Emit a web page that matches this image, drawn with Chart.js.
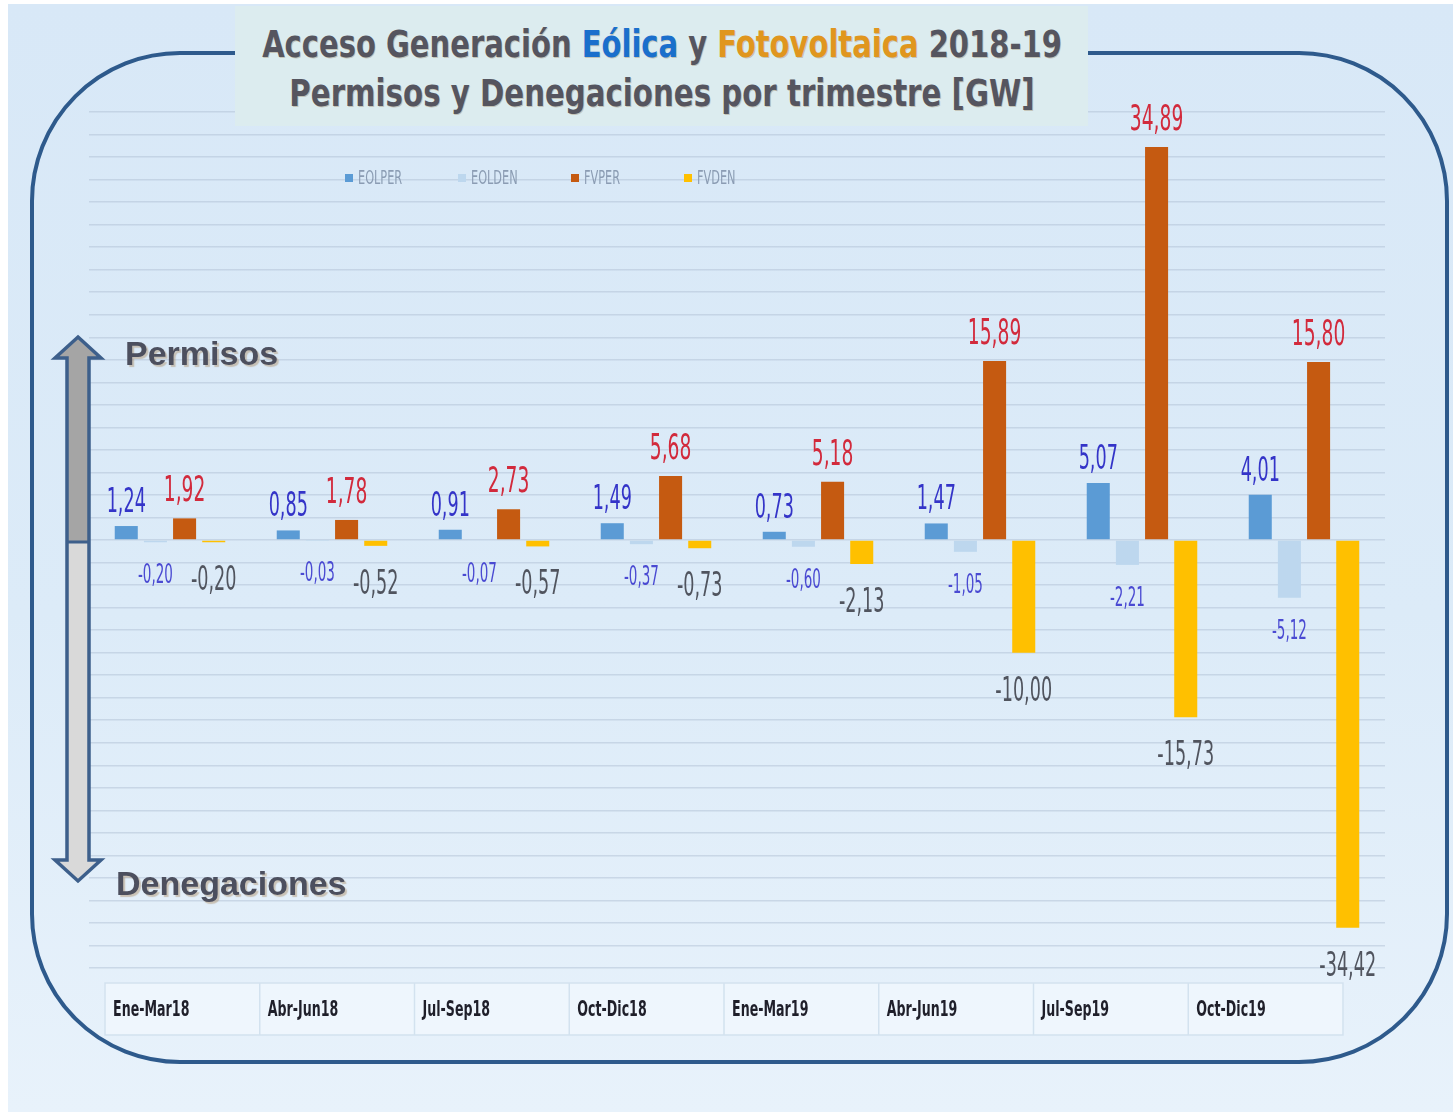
<!DOCTYPE html>
<html lang="es">
<head>
<meta charset="utf-8">
<title>Acceso Generación Eólica y Fotovoltaica 2018-19</title>
<script src="https://cdn.jsdelivr.net/npm/chart.js@4.4.1/dist/chart.umd.min.js"></script>
<style>
  html, body { margin: 0; padding: 0; background: #fff; }
  #lienzo { position: relative; width: 1453px; height: 1117px; overflow: hidden; background: #fff; }
  #fondo { position: absolute; left: 8px; top: 4px; width: 1445px; height: 1108px;
    background: linear-gradient(180deg, #d8e8f7 0%, #dcebf8 55%, #e8f2fb 100%); }
  #marco { position: absolute; left: 30px; top: 51px; width: 1411px; height: 1005px;
    border: 4px solid #2e5a8c; border-radius: 150px; }
  #grafico { position: absolute; left: 0; top: 0; }
  #titulo { position: absolute; left: 235px; top: 6px; width: 853px; height: 120px;
    background: #dcecef;
    font-family: 'Liberation Sans Narrow', 'DejaVu Sans Condensed', 'Roboto', sans-serif;
    font-weight: bold; font-size: 37px; color: #55555f; line-height: 44px;
    text-shadow: 1px 1px 0 rgba(150, 120, 80, 0.35); }
  #titulo span.t { position: absolute; left: 50%; white-space: nowrap; transform-origin: center center; }
  .azul { color: #1a6fcc; }
  .naranja { color: #e0961e; }
  .lado { position: absolute; font-family: 'Liberation Sans', Arial, sans-serif; font-weight: bold;
    font-size: 34px; color: #4c4f5e; text-shadow: 2px 2px 1px rgba(170, 140, 100, 0.45); }
  #flecha { position: absolute; left: 0; top: 0; }
</style>
</head>
<body>
<div id="lienzo">
  <div id="fondo"></div>
  <div id="marco"></div>
  <canvas id="grafico" width="1453" height="1117"></canvas>
  <div id="titulo">
    <span class="t" style="top:17px;" data-ancho="800">Acceso Generación <span class="azul">Eólica</span> y <span class="naranja">Fotovoltaica</span> 2018-19</span>
    <span class="t" style="top:66px;" data-ancho="745">Permisos y Denegaciones por trimestre [GW]</span>
  </div>
  <svg id="flecha" width="140" height="1117">
    <defs>
      <linearGradient id="rellenoFlecha" gradientUnits="userSpaceOnUse" x1="0" y1="337" x2="0" y2="881">
        <stop offset="0.377" stop-color="#a5a5a5"/>
        <stop offset="0.377" stop-color="#d9d9d9"/>
      </linearGradient>
    </defs>
    <path d="M78 337 L101 358 L89 358 L89 860 L101 860 L78 881 L55 860 L67 860 L67 358 L55 358 Z"
      fill="url(#rellenoFlecha)" stroke="#3d5f8b" stroke-width="3.5" stroke-linejoin="miter"/>
    <line x1="67" y1="542" x2="89" y2="542" stroke="#3d5f8b" stroke-width="3"/>
  </svg>
  <div class="lado" style="left:125px; top:334px;">Permisos</div>
  <div class="lado" style="left:116px; top:864px;">Denegaciones</div>
</div>

<script>
// trimestres
const categorias = ['Ene-Mar18', 'Abr-Jun18', 'Jul-Sep18', 'Oct-Dic18', 'Ene-Mar19', 'Abr-Jun19', 'Jul-Sep19', 'Oct-Dic19'];

// valores en GW
const eolPer = [1.24, 0.85, 0.91, 1.49, 0.73, 1.47, 5.07, 4.01];
const eolDen = [-0.20, -0.03, -0.07, -0.37, -0.60, -1.05, -2.21, -5.12];
const fvPer = [1.92, 1.78, 2.73, 5.68, 5.18, 15.89, 34.89, 15.80];
const fvDen = [-0.20, -0.52, -0.57, -0.73, -2.13, -10.00, -15.73, -34.42];

// eje y (oculto, solo lineas de fondo)
const yMin = -38;
const yMax = 38;
const yPaso = 2;

const fuenteEstrecha = "'Liberation Sans Narrow', 'DejaVu Sans Condensed', 'Roboto', sans-serif";

// ajustar el titulo al ancho del original
document.querySelectorAll('#titulo span.t').forEach(function (el) {
  const objetivo = parseFloat(el.dataset.ancho);
  const w = el.getBoundingClientRect().width;
  el.style.transform = 'translateX(-50%) scaleX(' + (objetivo / w).toFixed(3) + ')';
});

// estilo de etiquetas por serie: tamaño, color, desplazamiento
const estiloEtiquetas = [
  { size: 34, color: '#3434c8', off: 14 },
  { size: 26, color: '#4a4ad2', off: 41 },
  { size: 36, color: '#d22a3c', off: 17 },
  { size: 34, color: '#50545e', off: 48 }
];

function formato(v) {
  return v.toFixed(2).replace('.', ',');
}

// texto comprimido en horizontal: ancho de cifra = size * relacion
function textoEstrecho(ctx, texto, x, y, size, relacion, peso) {
  ctx.save();
  ctx.font = (peso || 'normal') + ' ' + size + 'px ' + fuenteEstrecha;
  const escala = (size * relacion) / ctx.measureText('0').width;
  ctx.translate(x, y);
  ctx.scale(escala, 1);
  ctx.fillText(texto, 0, 0);
  ctx.restore();
}

const pluginEtiquetas = {
  id: 'etiquetas',
  afterDatasetsDraw(chart) {
    const ctx = chart.ctx;
    chart.data.datasets.forEach(function (ds, i) {
      const meta = chart.getDatasetMeta(i);
      const est = estiloEtiquetas[i];
      meta.data.forEach(function (barra, j) {
        const v = ds.data[j];
        const y = v >= 0 ? barra.y - est.off : barra.y + est.off;
        ctx.fillStyle = est.color;
        ctx.textAlign = 'center';
        ctx.textBaseline = 'alphabetic';
        textoEstrecho(ctx, formato(v), barra.x, y, est.size, 0.33);
      });
    });
  },
  afterDraw(chart) {
    const ctx = chart.ctx;
    const area = chart.chartArea;

    // leyenda
    let lx = area.left + 256;
    const ly = 178;
    chart.data.datasets.forEach(function (ds) {
      ctx.fillStyle = ds.backgroundColor;
      ctx.fillRect(lx, ly - 4, 8, 8);
      ctx.fillStyle = '#8b9cb3';
      ctx.textAlign = 'left';
      ctx.textBaseline = 'middle';
      textoEstrecho(ctx, ds.label, lx + 13, ly + 1, 20, 0.36);
      lx += 113;
    });

    // tabla de trimestres bajo el grafico
    const tIzq = area.left + 16;
    const tDer = area.right - 42;
    const tArr = area.bottom + 15;
    const tAlto = 52;
    const ancho = (tDer - tIzq) / categorias.length;
    ctx.fillStyle = 'rgba(240, 247, 253, 0.85)';
    ctx.fillRect(tIzq, tArr, tDer - tIzq, tAlto);
    ctx.strokeStyle = '#d3e2ef';
    ctx.lineWidth = 1.5;
    ctx.strokeRect(tIzq, tArr, tDer - tIzq, tAlto);
    categorias.forEach(function (c, k) {
      const cx = tIzq + k * ancho;
      if (k > 0) {
        ctx.beginPath();
        ctx.moveTo(cx, tArr);
        ctx.lineTo(cx, tArr + tAlto);
        ctx.stroke();
      }
      ctx.fillStyle = '#1f1f2a';
      ctx.textAlign = 'left';
      ctx.textBaseline = 'middle';
      textoEstrecho(ctx, c, cx + 8, tArr + tAlto / 2 + 1, 22, 0.4, 'bold');
    });
  }
};

const datos = {
  labels: categorias,
  datasets: [
    { label: 'EOLPER', data: eolPer, backgroundColor: '#5b9bd5' },
    { label: 'EOLDEN', data: eolDen, backgroundColor: '#bdd7ee' },
    { label: 'FVPER', data: fvPer, backgroundColor: '#c55a11' },
    { label: 'FVDEN', data: fvDen, backgroundColor: '#ffc000' }
  ]
};

const opciones = {
  responsive: false,
  animation: false,
  devicePixelRatio: 1,
  layout: { padding: { left: 89, right: 68, top: 112, bottom: 149 } },
  datasets: {
    bar: { categoryPercentage: 0.72, barPercentage: 0.79 }
  },
  plugins: {
    legend: { display: false },
    tooltip: { enabled: false },
    title: { display: false }
  },
  scales: {
    x: { display: false },
    y: {
      min: yMin,
      max: yMax,
      ticks: { display: false, stepSize: yPaso },
      border: { display: false },
      grid: { color: 'rgba(175, 192, 212, 0.5)', lineWidth: 1.5, drawTicks: false }
    }
  }
};

new Chart(document.getElementById('grafico'), {
  type: 'bar',
  data: datos,
  options: opciones,
  plugins: [pluginEtiquetas]
});
</script>
</body>
</html>
